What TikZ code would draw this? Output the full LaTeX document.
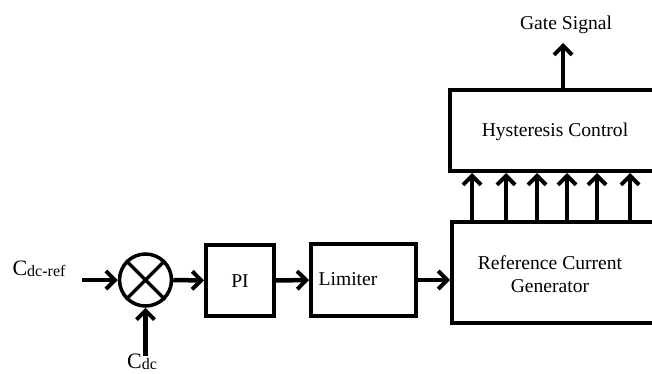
\documentclass[tikz,border=0pt]{standalone}
\usepackage{fontspec}
\setmainfont{Liberation Serif}
\usetikzlibrary{arrows.meta}
\begin{document}
\begin{tikzpicture}[x=1pt,y=-1pt,
  blk/.style={draw,line width=4pt,inner sep=0pt},
  arr/.style={line width=4.5pt,-{Straight Barb[length=9pt,width=18pt,line width=4pt]}},
  txt/.style={font=\fontsize{19.6}{23.5}\selectfont,inner sep=0pt}]
\clip (0,0) rectangle (652,374);
% blocks
\node[draw,circle,line width=3.5pt,minimum size=52pt,inner sep=0pt] (sum) at (145.5,280) {};
\draw[line width=3.5pt] (sum.north east) -- (sum.south west);
\draw[line width=3.5pt] (sum.north west) -- (sum.south east);
\node[blk,minimum width=68pt,minimum height=71pt] (pi) at (240,280.5) {};
\node[blk,minimum width=105pt,minimum height=72pt] (lim) at (363.5,280) {};
\node[blk,minimum width=213pt,minimum height=101pt] (rcg) at (558.5,272.5) {};
\node[blk,minimum width=215pt,minimum height=81pt] (hys) at (557.5,130.5) {};
% texts
\node[txt,anchor=base] (tpi) at (240,287) {PI};
\node[txt,anchor=base] (tlim) at (348,285) {Limiter};
\node[txt,align=center] (trcg) at (550,274) {Reference Current\\Generator};
\node[txt,anchor=base] (thys) at (555,137) {Hysteresis Control};
\node[txt,anchor=base] (gate) at (566,30) {Gate Signal};
\node[anchor=base,inner sep=0pt] (cref) at (39,275) {\fontsize{22}{24}\selectfont C\raisebox{-1pt}{\fontsize{16}{18}\selectfont dc-ref}};
\node[anchor=base,inner sep=0pt] (cdc) at (142,368) {\fontsize{22}{24}\selectfont C\raisebox{-1.5pt}{\fontsize{16}{18}\selectfont dc}};
% connectors
\coordinate (in1) at (82,280);
\coordinate (in2) at (145.5,356);
\coordinate (gtop) at (563,43);
\draw[arr] (in1) -- (sum.west);
\draw[arr] (in2) -- (sum.south);
\draw[arr] (sum.east) -- (pi.west);
\draw[arr] (pi.east) -- (lim.west);
\draw[arr] (lim.east) -- (lim.east -| rcg.west);
\draw[arr] (hys.north -| gtop) -- (gtop);
\foreach \dx in {22,56,87,117,147,180}
  \draw[arr] ([xshift=\dx pt]rcg.north west) -- ([xshift=\dx pt]rcg.north west |- hys.south);
\end{tikzpicture}
\end{document}
